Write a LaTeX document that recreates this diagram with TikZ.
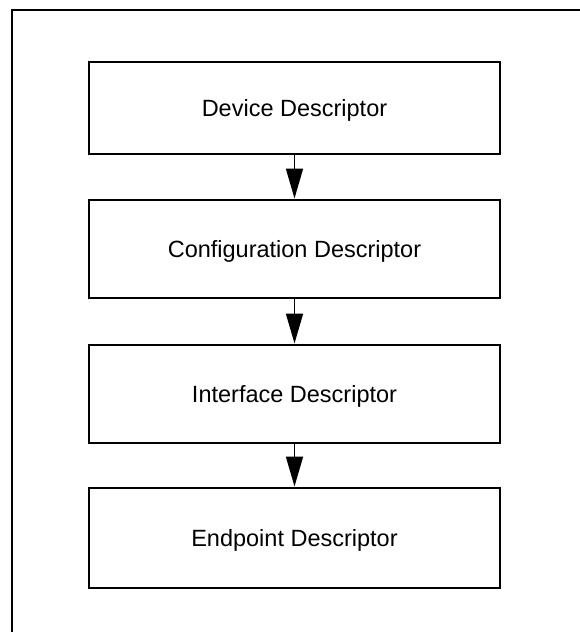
\documentclass[tikz,border=0pt]{standalone}
\usepackage{fontspec}
\setmainfont{Liberation Sans}
\usetikzlibrary{arrows.meta}
\begin{document}
\begin{tikzpicture}[x=1pt,y=-1pt,
  descbox/.style={draw, line width=2pt, minimum width=411pt, inner sep=0pt,
    text depth=0pt, font=\fontsize{23.5}{28}\selectfont},
  flow/.style={line width=1.8pt, -{Triangle[length=30pt,width=17pt]}, shorten >=0.5pt}]
  \useasboundingbox (0,0) rectangle (580,632);
  \clip (0,0) rectangle (580,632);
  % outer frame, running off the right and bottom edges
  \draw[line width=2pt] (12,660) -- (12,10) -- (600,10);
  % descriptor hierarchy
  \node[descbox, minimum height=92pt]  (dev)  at (294.5,108) {Device Descriptor};
  \node[descbox, minimum height=98pt]  (cfg)  at (294.5,249) {Configuration Descriptor};
  \node[descbox, minimum height=98pt]  (ifc)  at (294.5,394) {Interface Descriptor};
  \node[descbox, minimum height=100pt] (ep)   at (294.5,538) {Endpoint Descriptor};
  \draw[flow] (dev) -- (cfg);
  \draw[flow] (cfg) -- (ifc);
  \draw[flow] (ifc) -- (ep);
\end{tikzpicture}
\end{document}
